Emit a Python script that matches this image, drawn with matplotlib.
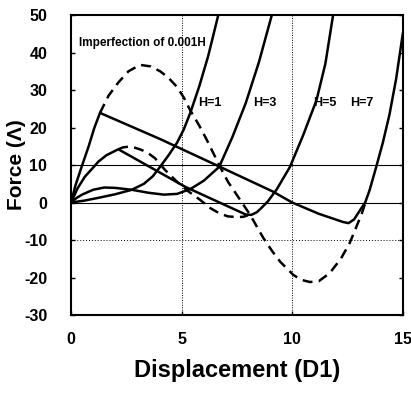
import matplotlib
matplotlib.use('Agg')
import matplotlib.pyplot as plt

plt.rcParams['font.family'] = ['Liberation Sans', 'DejaVu Sans']
narrow = ['Liberation Sans Narrow', 'Liberation Sans', 'DejaVu Sans']

# H=1 (solid)
h1_x = [0, 0.6, 1.2, 2.0, 2.75, 3.3, 3.7, 4.0, 4.4, 4.8, 5.1, 5.4, 5.8, 6.2, 6.66]
h1_y = [0, 0.5, 1.2, 2.2, 3.4, 5.0, 7.0, 9.3, 12.5, 16, 19.5, 24, 31, 39, 50]

# H=3 (solid)
h3_x = [0, 0.25, 0.5, 1.0, 1.5, 2.0, 2.75, 3.5, 4.2, 4.8, 5.4, 6.0, 6.7, 7.3, 7.9, 8.5, 9.08]
h3_y = [0, 1.2, 2.1, 3.4, 4.0, 3.9, 3.4, 2.6, 2.1, 2.3, 3.6, 5.8, 9.5, 17.5, 26.5, 37.5, 50]

# H=5 (solid)
h5_x = [0, 0.3, 0.63, 1.0, 1.24, 1.6, 2.14, 5.16, 7.9, 8.15, 8.4, 8.6, 8.9, 9.3, 9.9, 10.5, 11.1, 11.5, 11.85]
h5_y = [0, 3.8, 6.9, 9.3, 10.9, 12.6, 14.2, 4.2, -3.2, -3.3, -2.6, -1.5, 0.3, 3.5, 9.5, 18, 27.3, 37, 50]

# H=7 (solid)
h7_x = [0, 0.2, 0.48, 0.8, 1.05, 1.31, 4.0, 6.74, 9.1, 10.0, 11.2, 12.3, 12.55, 12.8, 13.05,
        13.3, 13.5, 13.8, 14.1, 14.4, 14.7, 15.0]
h7_y = [0, 4.5, 9.5, 15, 19.8, 23.9, 17.0, 9.5, 3.0, 0.0, -3.0, -5.2, -5.5, -4.5, -2.2,
        0, 3.3, 9.5, 16, 23.5, 33, 45]

# H=5 with imperfection (dashed)
h5i_x = [2.14, 2.35, 2.6, 2.9, 3.2, 3.5, 3.8, 4.25, 4.8, 5.3, 5.84, 6.3, 6.74, 7.1, 7.5, 7.8, 8.0]
h5i_y = [14.2, 14.7, 14.9, 14.6, 14.0, 13.1, 11.8, 8.7, 5.5, 3.0, 0.7, -1.5, -3.0, -3.7, -3.9, -3.8, -3.4]

# H=7 with imperfection (dashed)
h7i_x = [1.31, 1.7, 2.14, 2.6, 3.12, 3.6, 4.03, 4.4, 4.78, 5.1, 5.38, 5.8, 6.14, 6.74, 7.1, 7.5,
         8.1, 8.7, 9.1, 9.46, 10.05, 10.4, 10.8, 11.2, 11.7, 12.2, 12.6, 12.9, 13.15, 13.3]
h7i_y = [23.9, 28.5, 32, 35, 36.7, 36.3, 35, 33.3, 30.9, 28, 24.7, 20.5, 16.7, 9.5, 5.5, 2.0,
         -3.3, -9.5, -13, -15.8, -19.3, -20.6, -21.2, -21.0, -18.8, -15, -10.8, -6.5, -2.9, -0.2]

labels = ['H=1', 'H=3', 'H=5', 'H=7']
label_x = [5.75, 8.24, 10.95, 12.6]

x_ticks = [0, 5, 10, 15]
y_ticks = [-30, -20, -10, 0, 10, 20, 30, 40, 50]

fig = plt.figure(figsize=(4.11, 3.95), dpi=100)
ax = fig.add_axes([0.1727, 0.2025, 0.8073, 0.7595])

# reference lines
ax.axhline(0, color='black', lw=0.8, zorder=1)
ax.axhline(10, color='black', lw=0.8, zorder=1)
ax.axhline(-10, color='black', lw=0.7, ls=(0, (1, 2)), zorder=1)
for xv in [5, 10]:
    ax.axvline(xv, color='black', lw=0.7, ls=(0, (1, 1.5)), zorder=1)

for xs, ys in [(h1_x, h1_y), (h3_x, h3_y), (h5_x, h5_y), (h7_x, h7_y)]:
    ax.plot(xs, ys, color='black', lw=1.8, solid_joinstyle='round', zorder=3)
for xs, ys in [(h5i_x, h5i_y), (h7i_x, h7i_y)]:
    ax.plot(xs, ys, color='black', lw=1.8, ls=(0, (4, 2.5)), zorder=3)

for lab, lx in zip(labels, label_x):
    ax.text(lx, 26.5, lab, fontsize=9, fontweight='bold', family=narrow, va='center', ha='left')
ax.text(0.35, 42.5, 'Imperfection of 0.001H', fontsize=8.5, fontweight='bold', family=narrow,
        va='center', ha='left')

ax.set_xlim(0, 15)
ax.set_ylim(-30, 50)
ax.set_xticks(x_ticks)
ax.set_xticklabels([str(v) for v in x_ticks])
ax.set_yticks(y_ticks)
ax.set_yticklabels([str(v) for v in y_ticks])
ax.tick_params(direction='in', length=3, width=1, right=True, top=False)
ax.tick_params(axis='y', pad=17)
ax.tick_params(axis='x', pad=12)
for t in ax.get_xticklabels() + ax.get_yticklabels():
    t.set_fontweight('bold')
    t.set_fontsize(11.5)
    t.set_family(narrow)
for s in ax.spines.values():
    s.set_linewidth(1.5)

ax.set_xlabel('Displacement (D1)', fontsize=17, fontweight='bold', labelpad=9)
ax.set_ylabel('Force (Λ)', fontsize=15, fontweight='bold')
ax.yaxis.set_label_coords(-0.135, 0.5)

fig.savefig('out.png', dpi=100)
